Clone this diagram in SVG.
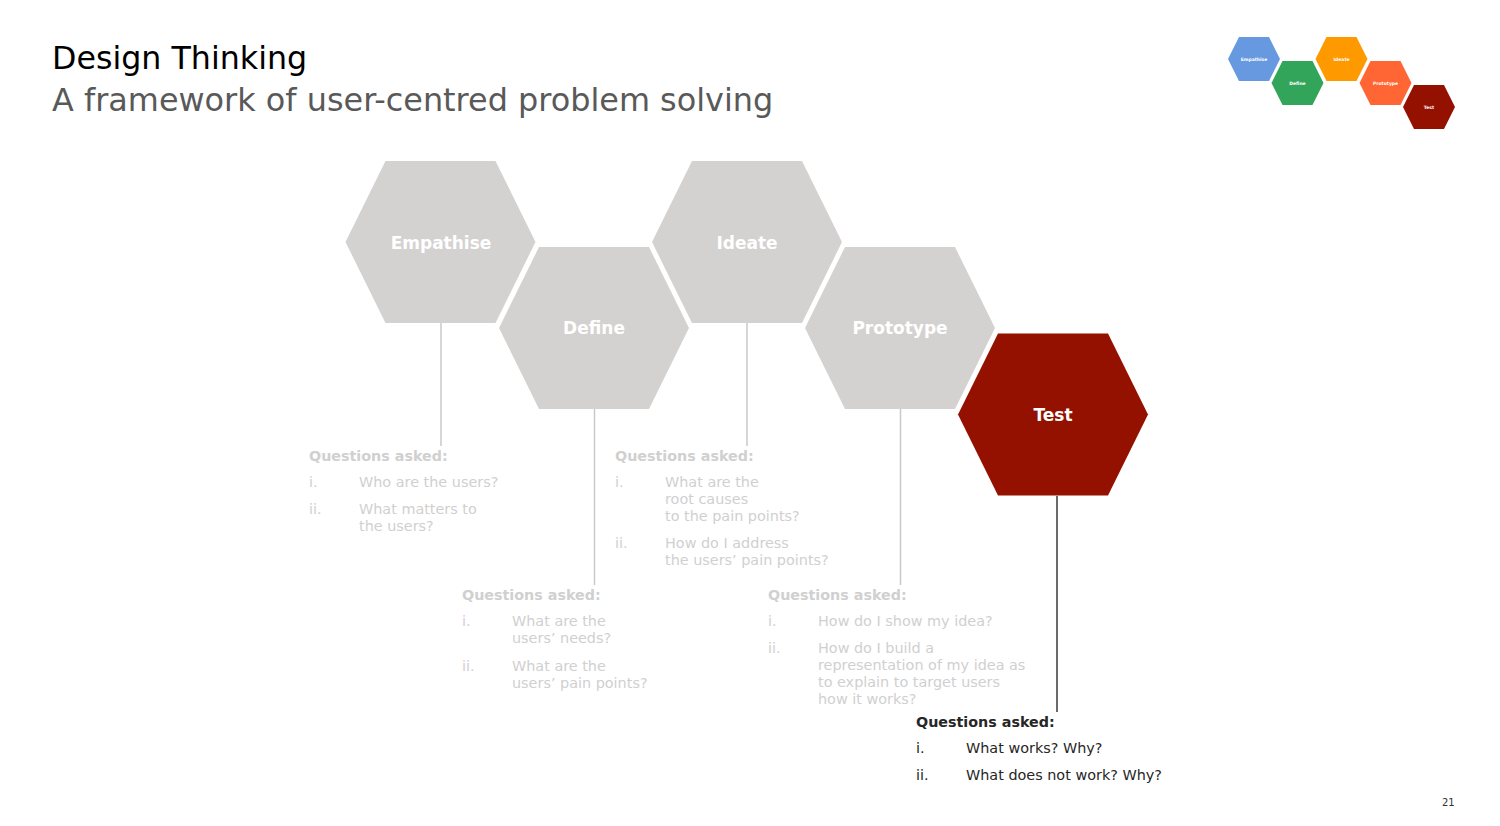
<svg xmlns="http://www.w3.org/2000/svg" width="1500" height="826" viewBox="0 0 1500 826">
  <defs>
    <!-- flat-topped hexagon centred on the origin -->
    <polygon id="hex" points="-55,-81 55,-81 95,0 55,81 -55,81 -95,0"/>
    <polygon id="hexSmall" points="-15,-22 15,-22 26,0 15,22 -15,22 -26,0"/>
  </defs>
  <style>
    text { font-family: "DejaVu Sans", Verdana, sans-serif; }
    .title { font-size: 31.7px; fill: #000000; }
    .subtitle { font-size: 31.9px; fill: #595959; }
    .hexGrey { fill: #d4d1d1; }
    .hexRed { fill: #941100; }
    .hexLabel { font-size: 17px; font-weight: bold; fill: #ffffff; text-anchor: middle; }
    .miniLabel { font-size: 4.5px; font-weight: bold; fill: #ffffff; text-anchor: middle; }
    .stem { stroke: #c9c9c9; stroke-width: 1.5; fill: none; }
    .stemDark { stroke: #3a3a3a; stroke-width: 1.5; fill: none; }
    .qHead { font-size: 14.3px; font-weight: bold; fill: #d0d0d0; }
    .q { font-size: 14.4px; fill: #d0d0d0; }
    .qHeadDark { font-size: 14.3px; font-weight: bold; fill: #262626; }
    .qDark { font-size: 14.4px; fill: #262626; }
    .page { font-size: 10px; fill: #333333; }
  </style>

  <rect width="1500" height="826" fill="#ffffff"/>

  <!-- heading -->
  <g id="heading">
    <text class="title" x="52" y="69">Design Thinking</text>
    <text class="subtitle" x="52" y="111">A framework of user-centred problem solving</text>
  </g>

  <!-- small coloured overview in the corner -->
  <g id="overview">
    <use href="#hexSmall" x="1254" y="59" fill="#6699e0"/>
    <text class="miniLabel" x="1254" y="60.5">Empathise</text>
    <use href="#hexSmall" x="1297.5" y="83" fill="#33a55a"/>
    <text class="miniLabel" x="1297.5" y="84.5">Define</text>
    <use href="#hexSmall" x="1341.5" y="59" fill="#ff9900"/>
    <text class="miniLabel" x="1341.5" y="60.5">Ideate</text>
    <use href="#hexSmall" x="1385.5" y="83" fill="#ff6633"/>
    <text class="miniLabel" x="1385.5" y="84.5">Prototype</text>
    <use href="#hexSmall" x="1429" y="107" fill="#941100"/>
    <text class="miniLabel" x="1429" y="108.5">Test</text>
  </g>

  <!-- connectors from each stage down to its questions -->
  <g id="connectors">
    <line class="stem" x1="441" y1="323" x2="441" y2="446"/>
    <line class="stem" x1="594.5" y1="409" x2="594.5" y2="585"/>
    <line class="stem" x1="747" y1="323" x2="747" y2="446"/>
    <line class="stem" x1="900.5" y1="409" x2="900.5" y2="585"/>
    <line class="stemDark" x1="1057" y1="496" x2="1057" y2="712"/>
  </g>

  <!-- stages -->
  <g id="empathise">
    <use href="#hex" x="440.5" y="242" class="hexGrey"/>
    <text class="hexLabel" x="441" y="249">Empathise</text>
  </g>
  <g id="define">
    <use href="#hex" x="594" y="328" class="hexGrey"/>
    <text class="hexLabel" x="594" y="334">Define</text>
  </g>
  <g id="ideate">
    <use href="#hex" x="747" y="242" class="hexGrey"/>
    <text class="hexLabel" x="747" y="249">Ideate</text>
  </g>
  <g id="prototype">
    <use href="#hex" x="900" y="328" class="hexGrey"/>
    <text class="hexLabel" x="900" y="334">Prototype</text>
  </g>
  <g id="test">
    <use href="#hex" x="1053" y="414.5" class="hexRed"/>
    <text class="hexLabel" x="1053" y="421">Test</text>
  </g>

  <!-- question lists -->
  <g id="empathise-questions">
    <text class="qHead" x="309" y="461">Questions asked:</text>
    <text class="q" x="309" y="487">i.</text>
    <text class="q" x="359" y="487">Who are the users?</text>
    <text class="q" x="309" y="514">ii.</text>
    <text class="q" x="359" y="514">What matters to</text>
    <text class="q" x="359" y="531">the users?</text>
  </g>
  <g id="ideate-questions">
    <text class="qHead" x="615" y="461">Questions asked:</text>
    <text class="q" x="615" y="487">i.</text>
    <text class="q" x="665" y="487">What are the</text>
    <text class="q" x="665" y="504">root causes</text>
    <text class="q" x="665" y="521">to the pain points?</text>
    <text class="q" x="615" y="548">ii.</text>
    <text class="q" x="665" y="548">How do I address</text>
    <text class="q" x="665" y="565">the users’ pain points?</text>
  </g>
  <g id="define-questions">
    <text class="qHead" x="462" y="600">Questions asked:</text>
    <text class="q" x="462" y="626">i.</text>
    <text class="q" x="512" y="626">What are the</text>
    <text class="q" x="512" y="643">users’ needs?</text>
    <text class="q" x="462" y="671">ii.</text>
    <text class="q" x="512" y="671">What are the</text>
    <text class="q" x="512" y="688">users’ pain points?</text>
  </g>
  <g id="prototype-questions">
    <text class="qHead" x="768" y="600">Questions asked:</text>
    <text class="q" x="768" y="626">i.</text>
    <text class="q" x="818" y="626">How do I show my idea?</text>
    <text class="q" x="768" y="653">ii.</text>
    <text class="q" x="818" y="653">How do I build a</text>
    <text class="q" x="818" y="670">representation of my idea as</text>
    <text class="q" x="818" y="687">to explain to target users</text>
    <text class="q" x="818" y="704">how it works?</text>
  </g>
  <g id="test-questions">
    <text class="qHeadDark" x="916" y="727">Questions asked:</text>
    <text class="qDark" x="916" y="753">i.</text>
    <text class="qDark" x="966" y="753">What works? Why?</text>
    <text class="qDark" x="916" y="780">ii.</text>
    <text class="qDark" x="966" y="780">What does not work? Why?</text>
  </g>

  <text class="page" x="1442" y="806">21</text>
</svg>
